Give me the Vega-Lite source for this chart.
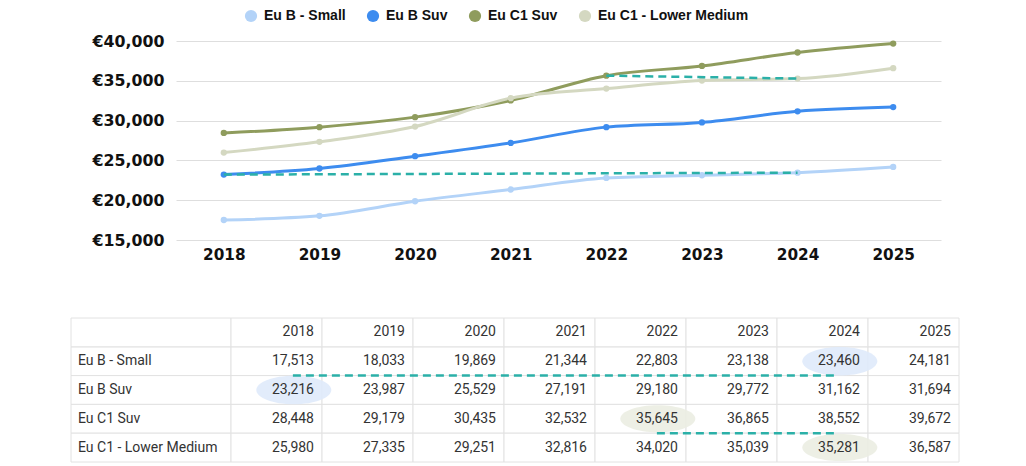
{
  "$schema": "https://vega.github.io/schema/vega-lite/v6.json",
  "padding": {"left": 70, "top": 9, "right": 5, "bottom": 4},
  "background": "white",
  "datasets": {
    "prices": [
      {"series": "Eu B - Small", "year": "2018", "value": 17513},
      {"series": "Eu B - Small", "year": "2019", "value": 18033},
      {"series": "Eu B - Small", "year": "2020", "value": 19869},
      {"series": "Eu B - Small", "year": "2021", "value": 21344},
      {"series": "Eu B - Small", "year": "2022", "value": 22803},
      {"series": "Eu B - Small", "year": "2023", "value": 23138},
      {"series": "Eu B - Small", "year": "2024", "value": 23460},
      {"series": "Eu B - Small", "year": "2025", "value": 24181},
      {"series": "Eu B Suv", "year": "2018", "value": 23216},
      {"series": "Eu B Suv", "year": "2019", "value": 23987},
      {"series": "Eu B Suv", "year": "2020", "value": 25529},
      {"series": "Eu B Suv", "year": "2021", "value": 27191},
      {"series": "Eu B Suv", "year": "2022", "value": 29180},
      {"series": "Eu B Suv", "year": "2023", "value": 29772},
      {"series": "Eu B Suv", "year": "2024", "value": 31162},
      {"series": "Eu B Suv", "year": "2025", "value": 31694},
      {"series": "Eu C1 Suv", "year": "2018", "value": 28448},
      {"series": "Eu C1 Suv", "year": "2019", "value": 29179},
      {"series": "Eu C1 Suv", "year": "2020", "value": 30435},
      {"series": "Eu C1 Suv", "year": "2021", "value": 32532},
      {"series": "Eu C1 Suv", "year": "2022", "value": 35645},
      {"series": "Eu C1 Suv", "year": "2023", "value": 36865},
      {"series": "Eu C1 Suv", "year": "2024", "value": 38552},
      {"series": "Eu C1 Suv", "year": "2025", "value": 39672},
      {"series": "Eu C1 - Lower Medium", "year": "2018", "value": 25980},
      {"series": "Eu C1 - Lower Medium", "year": "2019", "value": 27335},
      {"series": "Eu C1 - Lower Medium", "year": "2020", "value": 29251},
      {"series": "Eu C1 - Lower Medium", "year": "2021", "value": 32816},
      {"series": "Eu C1 - Lower Medium", "year": "2022", "value": 34020},
      {"series": "Eu C1 - Lower Medium", "year": "2023", "value": 35039},
      {"series": "Eu C1 - Lower Medium", "year": "2024", "value": 35281},
      {"series": "Eu C1 - Lower Medium", "year": "2025", "value": 36587}
    ],
    "links": [
      {"from": "2018", "to": "2024", "v1": 23216, "v2": 23460, "row": "Eu B - Small"},
      {"from": "2022", "to": "2024", "v1": 35645, "v2": 35281, "row": "Eu C1 Suv"}
    ],
    "highlights": [
      {"year": "2018", "series": "Eu B Suv", "group": "blue"},
      {"year": "2024", "series": "Eu B - Small", "group": "blue"},
      {"year": "2022", "series": "Eu C1 Suv", "group": "green"},
      {"year": "2024", "series": "Eu C1 - Lower Medium", "group": "green"}
    ]
  },
  "vconcat": [
    {
      "width": 765,
      "height": 199,
      "encoding": {
        "x": {
          "field": "year", "type": "ordinal",
          "scale": {"type": "point", "padding": 0.5},
          "axis": {
            "title": null, "labelAngle": 0, "domain": false, "ticks": false, "grid": false,
            "labelPadding": 7, "labelFont": "DejaVu Sans", "labelFontWeight": "bold",
            "labelFontSize": 15.3, "labelColor": "#111"
          }
        },
        "y": {
          "field": "value", "type": "quantitative",
          "scale": {"domain": [15000, 40000], "nice": false, "zero": false},
          "axis": {
            "title": null, "values": [15000, 20000, 25000, 30000, 35000, 40000],
            "labelExpr": "'€' + format(datum.value, ',')", "labelOverlap": false,
            "domain": false, "ticks": false, "gridColor": "#dedede", "gridWidth": 1,
            "labelFont": "DejaVu Sans", "labelFontWeight": "bold", "labelFontSize": 15.8,
            "labelColor": "#111", "labelPadding": 12, "minExtent": 105, "maxExtent": 105
          }
        }
      },
      "layer": [
        {
          "data": {"name": "prices"},
          "mark": {"type": "line", "interpolate": "monotone", "strokeWidth": 3},
          "encoding": {
            "color": {
              "field": "series", "type": "nominal",
              "scale": {
                "domain": ["Eu B - Small", "Eu B Suv", "Eu C1 Suv", "Eu C1 - Lower Medium"],
                "range": ["#b3d3f8", "#3d8cef", "#8f9c5d", "#d4d8c1"]
              },
              "legend": {
                "title": null, "orient": "none", "direction": "horizontal",
                "legendX": 68, "legendY": -32,
                "symbolType": "circle", "symbolSize": 150, "symbolStrokeWidth": 0,
                "symbolOpacity": 1,
                "labelFont": "Liberation Sans", "labelFontWeight": "bold", "labelFontSize": 14,
                "labelColor": "#111", "labelOffset": 6, "columnPadding": 20
              }
            }
          }
        },
        {
          "data": {"name": "prices"},
          "mark": {"type": "point", "filled": true, "size": 40, "opacity": 1},
          "encoding": {
            "color": {"field": "series", "type": "nominal"}
          }
        },
        {
          "data": {"name": "links"},
          "mark": {"type": "rule", "strokeDash": [8, 5], "strokeWidth": 2.5, "color": "#2bb0a8"},
          "encoding": {
            "x": {"field": "from", "type": "ordinal"},
            "x2": {"field": "to"},
            "y": {"field": "v1", "type": "quantitative"},
            "y2": {"field": "v2"}
          }
        }
      ]
    },
    {
      "width": 783,
      "height": 144,
      "resolve": {"scale": {"x": "independent"}, "axis": {"x": "independent"}},
      "encoding": {
        "y": {
          "field": "series", "type": "nominal",
          "scale": {"type": "band", "paddingInner": 0, "paddingOuter": 0,
            "domain": [" ", "Eu B - Small", "Eu B Suv", "Eu C1 Suv", "Eu C1 - Lower Medium"]},
          "axis": null
        }
      },
      "layer": [
        {
          "encoding": {
            "x": {"datum": "label", "type": "nominal", "scale": {"type": "band", "paddingInner": 0, "paddingOuter": 0, "range": [-105, 55]}, "axis": null}
          },
          "layer": [
            {
              "data": {"name": "prices"},
              "transform": [{"aggregate": [{"op": "count", "as": "n"}], "groupby": ["series"]}],
              "mark": {"type": "rect", "fill": "white", "stroke": "#e2e2e2", "strokeWidth": 1}
            },
            {
              "data": {"values": [{"series": " "}]},
              "mark": {"type": "rect", "fill": "white", "stroke": "#e2e2e2", "strokeWidth": 1}
            },
            {
              "data": {"name": "prices"},
              "transform": [{"aggregate": [{"op": "count", "as": "n"}], "groupby": ["series"]}],
              "mark": {"type": "text", "align": "left", "baseline": "middle", "dx": 7, "font": "Roboto", "fontSize": 14, "color": "#333"},
              "encoding": {
                "x": {"datum": "label", "type": "nominal", "bandPosition": 0},
                "text": {"field": "series"}
              }
            }
          ]
        },
        {
          "encoding": {
            "x": {"field": "year", "type": "ordinal", "scale": {"type": "band", "paddingInner": 0, "paddingOuter": 0, "range": [55, 783]}, "axis": null}
          },
          "layer": [
            {
              "data": {"name": "prices"},
              "mark": {"type": "rect", "fill": "white", "stroke": "#e2e2e2", "strokeWidth": 1}
            },
            {
              "data": {"name": "prices"},
              "transform": [{"aggregate": [{"op": "count", "as": "n"}], "groupby": ["year"]}],
              "mark": {"type": "rect", "fill": "white", "stroke": "#e2e2e2", "strokeWidth": 1},
              "encoding": {"y": {"datum": " ", "type": "nominal"}}
            },
            {
              "data": {"name": "highlights"},
              "transform": [{"filter": "datum.group === 'blue'"}],
              "mark": {"type": "point", "filled": true, "size": 5625, "opacity": 0.9, "color": "#dfeafb",
                "shape": "M-1,0A1,0.38,0,1,0,1,0A1,0.38,0,1,0,-1,0Z"},
              "encoding": {"x": {"field": "year", "type": "ordinal", "bandPosition": 0.69}}
            },
            {
              "data": {"name": "highlights"},
              "transform": [{"filter": "datum.group === 'green'"}],
              "mark": {"type": "point", "filled": true, "size": 5625, "opacity": 0.9, "color": "#ebede2",
                "shape": "M-1,0A1,0.36,0,1,0,1,0A1,0.36,0,1,0,-1,0Z"},
              "encoding": {"x": {"field": "year", "type": "ordinal", "bandPosition": 0.69}}
            },
            {
              "data": {"name": "prices"},
              "mark": {"type": "text", "align": "right", "baseline": "middle", "dx": -8, "font": "Roboto", "fontSize": 14, "color": "#333"},
              "encoding": {
                "x": {"field": "year", "type": "ordinal", "bandPosition": 1},
                "text": {"field": "value", "type": "quantitative", "format": ",d"}
              }
            },
            {
              "data": {"name": "prices"},
              "transform": [{"aggregate": [{"op": "count", "as": "n"}], "groupby": ["year"]}],
              "mark": {"type": "text", "align": "right", "baseline": "middle", "dx": -8, "font": "Roboto", "fontSize": 14, "color": "#333"},
              "encoding": {
                "x": {"field": "year", "type": "ordinal", "bandPosition": 1},
                "y": {"datum": " ", "type": "nominal"},
                "text": {"field": "year"}
              }
            },
            {
              "data": {"name": "links"},
              "mark": {"type": "rule", "strokeDash": [8, 5], "strokeWidth": 2.5, "color": "#2bb0a8"},
              "encoding": {
                "x": {"field": "from", "type": "ordinal", "bandPosition": 0.68},
                "x2": {"field": "to", "bandPosition": 0.68},
                "y": {"field": "row", "type": "nominal", "bandPosition": 1}
              }
            }
          ]
        }
      ]
    }
  ],
  "spacing": 54,
  "config": {
    "view": {"stroke": null},
    "font": "Liberation Sans"
  }
}
